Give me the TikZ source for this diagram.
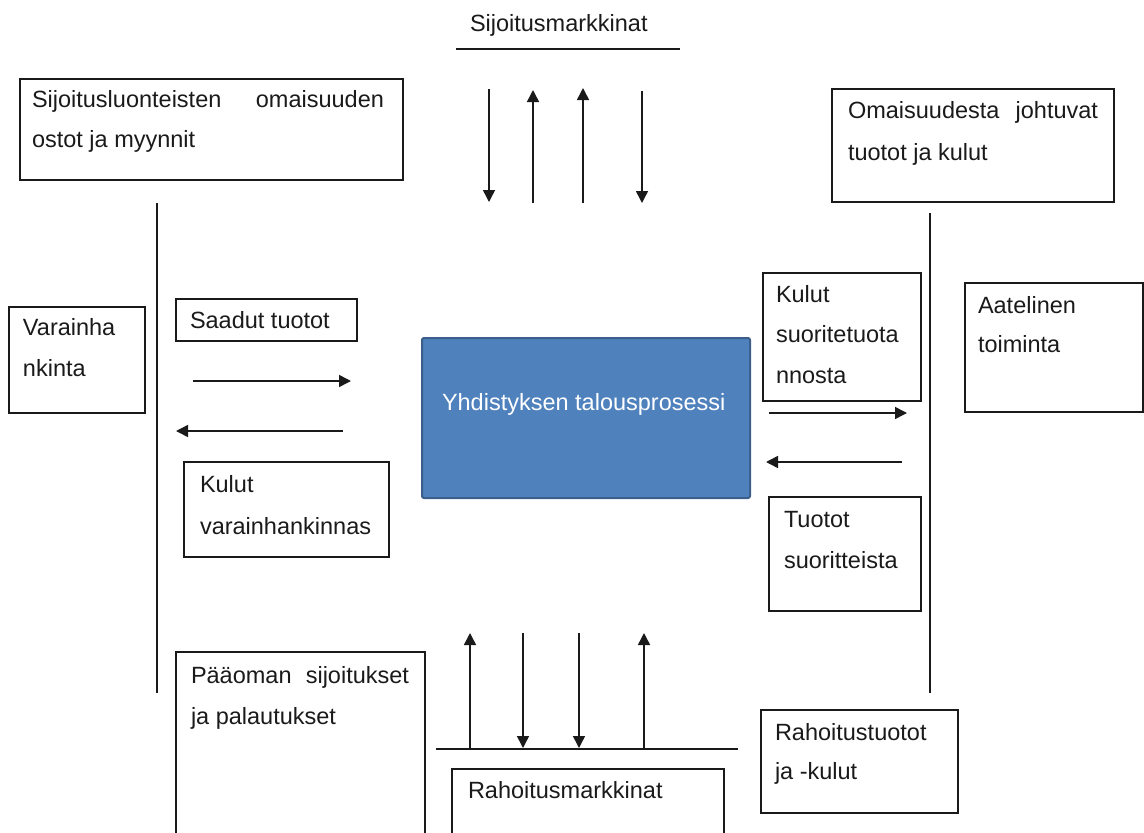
\documentclass[tikz,border=0pt]{standalone}
\usepackage{fontspec}
\setmainfont{Liberation Sans}
\usetikzlibrary{arrows.meta}
\definecolor{procfill}{HTML}{4F81BD}
\definecolor{procdraw}{HTML}{3B5E8C}
\definecolor{ink}{HTML}{1A1A1A}
\begin{document}
\begin{tikzpicture}[x=1pt,y=-1pt,
  box/.style={draw=ink, line width=1.5pt, inner sep=0pt, outer sep=0pt, anchor=north west},
  txt/.style={anchor=base west, inner sep=0pt, outer sep=0pt, font=\fontsize{23.5}{28}\selectfont, text=ink},
  flow/.style={draw=ink, line width=1.5pt, -{Triangle[length=12pt,width=12pt]}},
  rulel/.style={draw=ink, line width=1.5pt}]
\path[use as bounding box] (0,0) rectangle (1144,833);
\clip (0,0) rectangle (1144,833);

% boxes
\node[box, minimum width=383pt, minimum height=101pt] (sio) at (20,79) {};
\node[box, minimum width=282pt, minimum height=113pt] (oma) at (832,89) {};
\node[box, minimum width=136pt, minimum height=106pt] (var) at (9,307) {};
\node[box, minimum width=181pt, minimum height=42pt] (saa) at (176,299) {};
\node[box, minimum width=205pt, minimum height=95pt] (kva) at (184,462) {};
\node[box, draw=procdraw, fill=procfill, line width=2pt, rounded corners=2pt, minimum width=328pt, minimum height=160pt] (proc) at (422,338) {};
\node[box, minimum width=158pt, minimum height=128pt] (ksu) at (763,273) {};
\node[box, minimum width=152pt, minimum height=114pt] (tuo) at (769,497) {};
\node[box, minimum width=178pt, minimum height=129pt] (aat) at (965,283) {};
\node[box, minimum width=249pt, minimum height=248pt] (paa) at (176,652) {};
\node[box, minimum width=272pt, minimum height=131pt] (rah) at (452,769) {};
\node[box, minimum width=197pt, minimum height=103pt] (rtk) at (761,710) {};

% texts
\node[txt] (tsm) at (470,31) {Sijoitusmarkkinat};
\node[txt] (tsio1) at (32,107) {\makebox[352pt][s]{Sijoitusluonteisten omaisuuden}};
\node[txt] (tsio2) at (32,147) {ostot ja myynnit};
\node[txt] (toma1) at (848,118) {\makebox[250pt][s]{Omaisuudesta johtuvat}};
\node[txt] (toma2) at (848,160) {tuotot ja kulut};
\node[txt] (tvar1) at (23,335) {Varainha};
\node[txt] (tvar2) at (23,376) {nkinta};
\node[txt] (tsaa) at (190,328) {Saadut tuotot};
\node[txt] (tkva1) at (200,492) {Kulut};
\node[txt] (tkva2) at (200,534) {varainhankinnas};
\node[txt, text=white] (tproc) at (442,410) {Yhdistyksen talousprosessi};
\node[txt] (tksu1) at (776,302) {Kulut};
\node[txt] (tksu2) at (776,342) {suoritetuota};
\node[txt] (tksu3) at (776,383) {nnosta};
\node[txt] (ttuo1) at (784,527) {Tuotot};
\node[txt] (ttuo2) at (784,568) {suoritteista};
\node[txt] (taat1) at (978,313) {Aatelinen};
\node[txt] (taat2) at (978,352) {toiminta};
\node[txt] (tpaa1) at (191,683) {\makebox[218pt][s]{Pääoman sijoitukset}};
\node[txt] (tpaa2) at (191,724) {ja palautukset};
\node[txt] (trah) at (468,798) {Rahoitusmarkkinat};
\node[txt] (trtk1) at (775,740) {Rahoitustuotot};
\node[txt] (trtk2) at (775,779) {ja -kulut};

% rule lines
\coordinate (ta) at (456,49); \coordinate (tb) at (680,49);
\coordinate (la) at (157,203); \coordinate (lb) at (157,693);
\coordinate (ra) at (930,213); \coordinate (rb) at (930,693);
\coordinate (ba) at (436,749); \coordinate (bb) at (738,749);
\draw[rulel] (ta) -- (tb);
\draw[rulel] (la) -- (lb);
\draw[rulel] (ra) -- (rb);
\draw[rulel] (ba) -- (bb);

% arrows top
\coordinate (t1s) at (489,89);  \coordinate (t1e) at (489,202);
\coordinate (t2s) at (533,203); \coordinate (t2e) at (533,90);
\coordinate (t3s) at (583,203); \coordinate (t3e) at (583,88);
\coordinate (t4s) at (642,91);  \coordinate (t4e) at (642,203);
\draw[flow] (t1s) -- (t1e);
\draw[flow] (t2s) -- (t2e);
\draw[flow] (t3s) -- (t3e);
\draw[flow] (t4s) -- (t4e);

% arrows left
\coordinate (l1s) at (193,381); \coordinate (l1e) at (351,381);
\coordinate (l2s) at (343,431); \coordinate (l2e) at (176,431);
\draw[flow] (l1s) -- (l1e);
\draw[flow] (l2s) -- (l2e);

% arrows right
\coordinate (r1s) at (769,413); \coordinate (r1e) at (907,413);
\coordinate (r2s) at (902,462); \coordinate (r2e) at (766,462);
\draw[flow] (r1s) -- (r1e);
\draw[flow] (r2s) -- (r2e);

% arrows bottom
\coordinate (b1s) at (470,749); \coordinate (b1e) at (470,633);
\coordinate (b2s) at (523,633); \coordinate (b2e) at (523,748);
\coordinate (b3s) at (579,633); \coordinate (b3e) at (579,748);
\coordinate (b4s) at (644,749); \coordinate (b4e) at (644,633);
\draw[flow] (b1s) -- (b1e);
\draw[flow] (b2s) -- (b2e);
\draw[flow] (b3s) -- (b3e);
\draw[flow] (b4s) -- (b4e);
\end{tikzpicture}
\end{document}
